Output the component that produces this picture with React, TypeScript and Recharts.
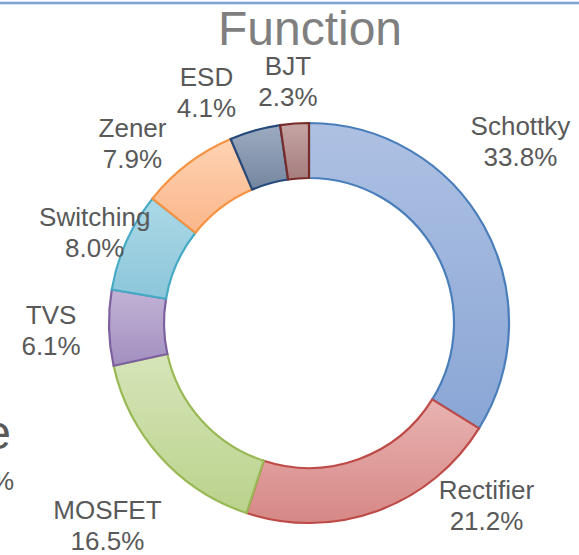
import { PieChart, Pie, Cell } from "recharts";

const categories = ["Schottky", "Rectifier", "MOSFET", "TVS", "Switching", "Zener", "ESD", "BJT"];
const shares = [33.8, 21.2, 16.5, 6.1, 8.0, 7.9, 4.1, 2.3];

// [top, bottom, edge] per slice
const sliceColors = [
  ["#aec1e3", "#8aa6d5", "#4a7ebb"],
  ["#e8b3b1", "#d68886", "#be4b48"],
  ["#d6e5b9", "#bad28c", "#98b954"],
  ["#c2b3d6", "#a28fbf", "#7d60a0"],
  ["#acd9e7", "#8cc6da", "#46aac5"],
  ["#fed3b3", "#fbb68a", "#f69240"],
  ["#9dabc0", "#74869f", "#254a7b"],
  ["#c6a5a5", "#a57d7d", "#772c2a"],
];

// label nudges from the radial spot (Excel best-fit placement)
const labelNudge = [
  [-7, -61],
  [92, -54],
  [-16, 33],
  [-8, 0],
  [14, 10],
  [-25, 18],
  [-35, 9],
  [-3, 6],
];

const data = categories.map((name, i) => ({ name, value: shares[i] }));

const FONT = "'Liberation Sans', Arial, sans-serif";
const RAD = Math.PI / 180;

function renderLabel(props: any) {
  const { cx, cy, midAngle, outerRadius, index } = props;
  const r = outerRadius + 50;
  const x = cx + r * Math.cos(-midAngle * RAD) + labelNudge[index][0];
  const y = cy + r * Math.sin(-midAngle * RAD) + labelNudge[index][1];
  return (
    <text
      x={x}
      y={y}
      textAnchor="middle"
      fill="#595959"
      fontSize={26}
      fontFamily={FONT}
    >
      <tspan x={x} y={y - 5}>
        {categories[index]}
      </tspan>
      <tspan x={x} y={y + 26}>
        {shares[index].toFixed(1)}%
      </tspan>
    </text>
  );
}

export default function App() {
  return (
    <div style={{ position: "absolute", left: 0, top: 0, width: 579, height: 555, background: "#fff", overflow: "hidden" }}>
      <PieChart width={579} height={555} margin={{ top: 0, right: 0, bottom: 0, left: 0 }}>
        <defs>
          {sliceColors.map((c, i) => (
            <linearGradient key={i} id={`grad${i}`} x1="0" y1="0" x2="0" y2="1">
              <stop offset="0%" stopColor={c[0]} />
              <stop offset="100%" stopColor={c[1]} />
            </linearGradient>
          ))}
        </defs>
        <Pie
          data={data}
          dataKey="value"
          nameKey="name"
          cx={309}
          cy={323}
          innerRadius={145}
          outerRadius={200}
          startAngle={90}
          endAngle={-270}
          paddingAngle={0}
          label={renderLabel}
          labelLine={false}
          isAnimationActive={false}
        >
          {data.map((d, i) => (
            <Cell key={d.name} fill={`url(#grad${i})`} stroke={sliceColors[i][2]} strokeWidth={2.2} />
          ))}
        </Pie>
      </PieChart>
      <svg
        width={579}
        height={555}
        style={{ position: "absolute", left: 0, top: 0, pointerEvents: "none" }}
      >
        <line x1={0} y1={3} x2={579} y2={3} stroke="#a9c4e6" strokeWidth={3} />
        <line x1={0} y1={3} x2={579} y2={3} stroke="#5b87c0" strokeWidth={1} />
        <text x={310} y={45} textAnchor="middle" fill="#7f7f7f" fontSize={48} fontFamily={FONT}>
          Function
        </text>
        <text x={11} y={449} textAnchor="end" fill="#595959" fontSize={48} fontFamily={FONT}>
          e
        </text>
        <text x={14} y={490} textAnchor="end" fill="#595959" fontSize={26} fontFamily={FONT}>
          %
        </text>
      </svg>
    </div>
  );
}
